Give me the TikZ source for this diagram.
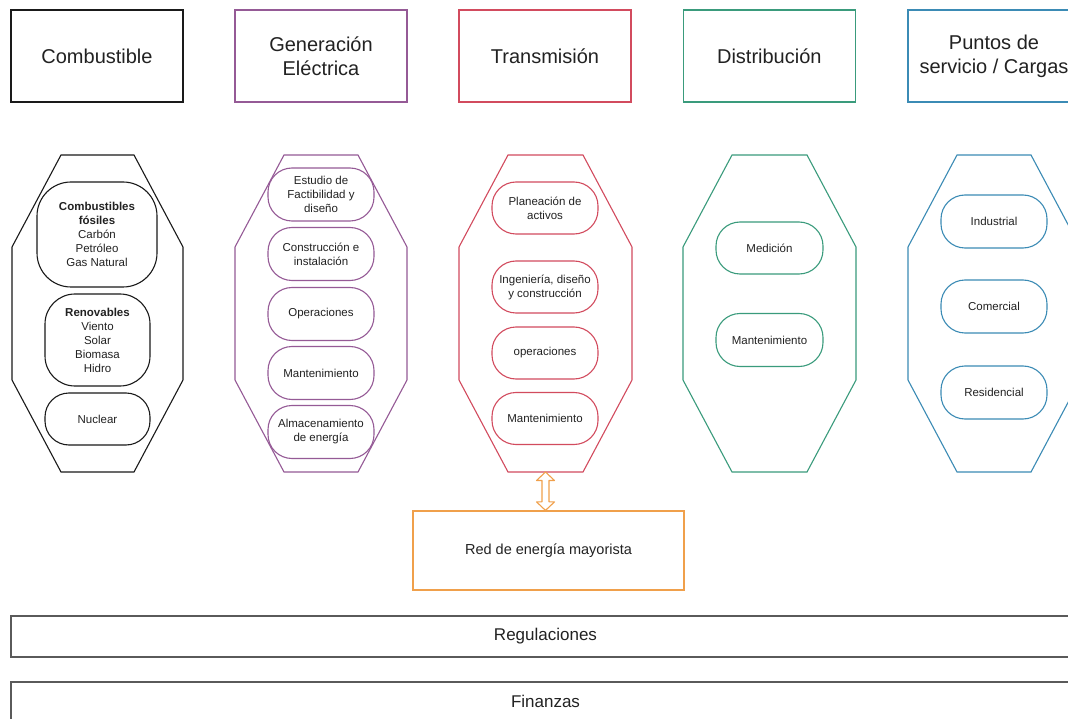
\documentclass[tikz,border=0pt]{standalone}
\usepackage{fontspec}
\setmainfont{Liberation Sans}
\usetikzlibrary{calc}
\definecolor{cblack}{HTML}{1A1A1A}
\definecolor{cpurple}{HTML}{955A96}
\definecolor{cred}{HTML}{D24B5E}
\definecolor{cteal}{HTML}{3A9B7C}
\definecolor{cblue}{HTML}{3B8BB5}
\definecolor{corange}{HTML}{F0A04B}
\definecolor{cgray}{HTML}{5A5A5A}
\definecolor{ctext}{HTML}{222222}
\tikzset{
  hdr/.style={draw=#1, line width=1.2pt, rectangle, minimum width=172pt, minimum height=92pt, inner sep=0pt,
    align=center, font=\fontsize{20}{24}\selectfont, text=ctext},
  pill/.style={draw=#1, line width=1.1pt, rectangle, rounded corners=24pt, minimum width=106pt, minimum height=53pt,
    inner sep=0pt, align=center, font=\fontsize{11.5}{14}\selectfont, text=ctext},
  octa/.style={draw=#1, line width=1.1pt},
  band/.style={draw=cgray, line width=1.3pt, rectangle, inner sep=0pt, font=\fontsize{17}{20}\selectfont, text=ctext},
  blockarrow/.style={draw=corange, fill=white, line width=1.1pt, line join=round}
}
\newcommand{\octagon}[4]{% name, xl, xr, color
  \draw[octa=#4] ({#2+49},155) -- ({#3-49},155) -- (#3,247) -- (#3,380) -- ({#3-49},472) -- ({#2+49},472) -- (#2,380) -- (#2,247) -- cycle;
  \coordinate (#1-bot) at ({(#2+#3)/2},472);
}
\begin{document}
\begin{tikzpicture}[x=1pt,y=-1pt]
\useasboundingbox[fill=white] (0,0) rectangle (1068,719);

% headers
\node[hdr=cblack] (hComb) at (97,56) {Combustible};
\node[hdr=cpurple] (hGen) at (321,56) {Generación\\Eléctrica};
\node[hdr=cred] (hTrans) at (545,56) {Transmisión};
\node[hdr=cteal] (hDist) at (769.3,56) {Distribución};
\node[hdr=cblue] (hPun) at (994,56) {Puntos de\\servicio / Cargas};

% octagons
\octagon{oComb}{12}{183}{cblack}
\octagon{oGen}{235}{407}{cpurple}
\octagon{oTrans}{459}{632}{cred}
\octagon{oDist}{683}{856}{cteal}
\octagon{oPun}{908}{1080}{cblue}

% combustible
\node[pill=cblack, minimum width=120pt, minimum height=105pt, rounded corners=34pt] (fos) at (97,234.5)
  {\textbf{Combustibles}\\\textbf{fósiles}\\Carbón\\Petróleo\\Gas Natural};
\node[pill=cblack, minimum width=105pt, minimum height=92pt, rounded corners=30pt] (ren) at (97.5,340)
  {\textbf{Renovables}\\Viento\\Solar\\Biomasa\\Hidro};
\node[pill=cblack, minimum width=105pt, minimum height=52pt] (nuc) at (97.5,419) {Nuclear};

% generacion
\node[pill=cpurple] (g1) at (321,194.5) {Estudio de\\Factibilidad y\\diseño};
\node[pill=cpurple] (g2) at (321,254) {Construcción e\\instalación};
\node[pill=cpurple] (g3) at (321,314) {Operaciones};
\node[pill=cpurple] (g4) at (321,373) {Mantenimiento};
\node[pill=cpurple] (g5) at (321,432) {Almacenamiento\\de energía};

% transmision
\node[pill=cred, minimum height=52pt] (t1) at (545,208) {Planeación de\\activos};
\node[pill=cred, minimum height=52pt] (t2) at (545,287) {Ingeniería, diseño\\y construcción};
\node[pill=cred, minimum height=52pt] (t3) at (545,353) {operaciones};
\node[pill=cred, minimum height=52pt] (t4) at (545,418.5) {Mantenimiento};

% distribucion
\node[pill=cteal, minimum width=107pt, minimum height=52pt] (d1) at (769.5,248) {Medición};
\node[pill=cteal, minimum width=107pt, minimum height=53pt] (d2) at (769.5,340) {Mantenimiento};

% puntos
\node[pill=cblue] (p1) at (994,221.5) {Industrial};
\node[pill=cblue] (p2) at (994,306.5) {Comercial};
\node[pill=cblue] (p3) at (994,392.5) {Residencial};

% red mayorista
\node[draw=corange, line width=1.2pt, rectangle, minimum width=271pt, minimum height=79pt, inner sep=0pt,
  font=\fontsize{14.5}{17}\selectfont, text=ctext] (red) at (548.5,550.5) {Red de energía mayorista};

% hollow double arrow between transmission octagon and red box
\coordinate (aTop) at (oTrans-bot);
\coordinate (aBot) at (oTrans-bot |- red.north);
\draw[blockarrow] (aTop)
  -- ($(aTop)+(9,8.5)$) -- ($(aTop)+(3.5,8.5)$)
  -- ($(aBot)+(3.5,-8.5)$) -- ($(aBot)+(9,-8.5)$)
  -- (aBot)
  -- ($(aBot)+(-9,-8.5)$) -- ($(aBot)+(-3.5,-8.5)$)
  -- ($(aTop)+(-3.5,8.5)$) -- ($(aTop)+(-9,8.5)$) -- cycle;

% bands
\node[band, minimum width=1069pt, minimum height=41pt] (reg) at (545.5,636.5) {Regulaciones};
\node[band, minimum width=1069pt, minimum height=39pt] (fin) at (545.5,701.5) {Finanzas};
\end{tikzpicture}
\end{document}
